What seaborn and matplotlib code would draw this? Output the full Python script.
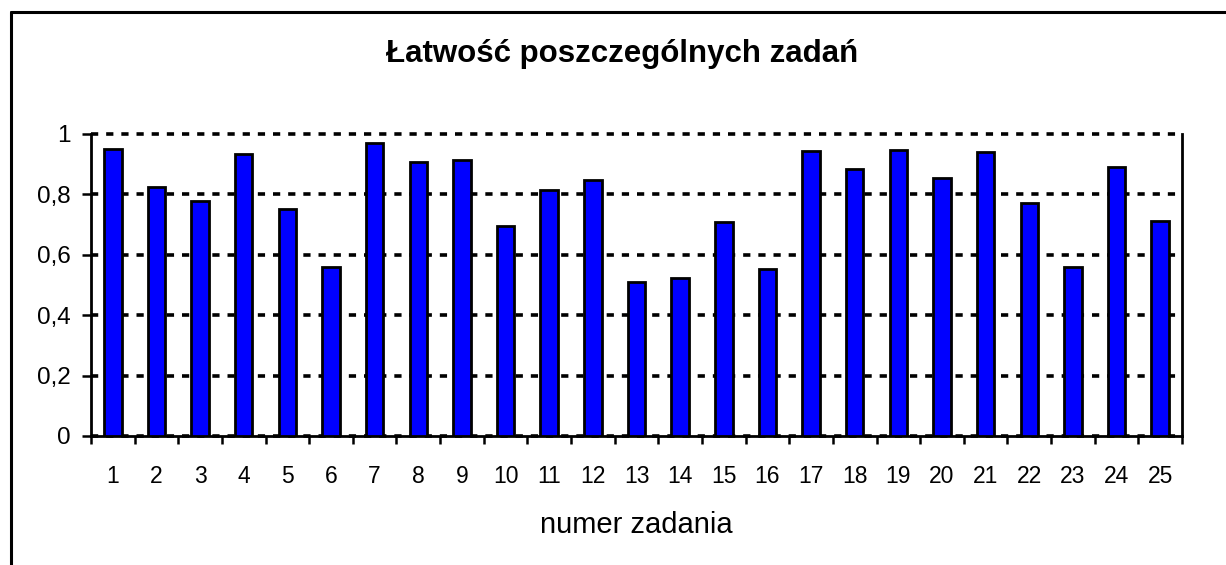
import matplotlib
matplotlib.use("Agg")
import matplotlib.pyplot as plt
from matplotlib.lines import Line2D
import seaborn as sns

# data
zadania = [str(i) for i in range(1, 26)]
latwosc = [0.950, 0.824, 0.778, 0.934, 0.751, 0.561, 0.969, 0.907, 0.915, 0.696,
           0.813, 0.848, 0.509, 0.524, 0.710, 0.553, 0.945, 0.883, 0.947, 0.853,
           0.942, 0.773, 0.561, 0.891, 0.711]
y_ticks = [0, 0.2, 0.4, 0.6, 0.8, 1.0]
y_labels = ["0", "0,2", "0,4", "0,6", "0,8", "1"]

title = "Łatwość poszczególnych zadań"
xlabel = "numer zadania"

sns.set_theme(style="white")
plt.rcParams["font.family"] = ["Liberation Sans", "DejaVu Sans"]

W, H = 1226, 565
fig = plt.figure(figsize=(W / 100, H / 100), dpi=100)
fig.patch.set_facecolor("white")
ax = fig.add_axes([91 / W, 1 - 436 / H, (1182 - 91) / W, (436 - 134) / H])

sns.barplot(x=zadania, y=latwosc, color="#0000FF", saturation=1,
            edgecolor="black", linewidth=2.0, width=0.4, ax=ax, zorder=3)

ax.set_xlim(-0.5, len(zadania) - 0.5)
ax.set_ylim(0, 1)
ax.set_yticks(y_ticks)
ax.set_yticklabels(y_labels, fontsize=17.5, color="black")
ax.yaxis.grid(True, linestyle=(0, (2, 2.2)), color="black", linewidth=2.6, zorder=1)
for gl in ax.get_ygridlines():
    gl.set_clip_on(False)
ax.xaxis.grid(False)
ax.set_axisbelow(True)

# category labels at bar centres, tick marks between categories
ax.set_xticks(range(len(zadania)))
ax.set_xticklabels(zadania, fontsize=16.5, color="black")
ax.set_xticks([i - 0.5 for i in range(len(zadania) + 1)], minor=True)
ax.tick_params(axis="x", which="major", length=0, pad=21)
ax.tick_params(axis="x", which="minor", length=6, width=1.8, color="black",
               direction="out", bottom=True)
ax.tick_params(axis="y", length=6.5, width=1.8, color="black", direction="out",
               left=True, pad=8)

for side in ["left", "bottom", "right"]:
    ax.spines[side].set_visible(True)
    ax.spines[side].set_color("black")
    ax.spines[side].set_linewidth(2.0)
ax.spines["top"].set_visible(False)

ax.set_xlabel("")
ax.set_ylabel("")

fig.text(622 / W, 1 - 62 / H, title, ha="center", va="baseline",
         fontsize=22.5, fontweight="bold", color="black")
fig.text(636 / W, 1 - 533 / H, xlabel, ha="center", va="baseline",
         fontsize=21, color="black")

# outer chart frame (only top and left edge visible in the reference)
fig.add_artist(Line2D([10.5 / W, 10.5 / W], [0, 1 - 11.5 / H],
                      transform=fig.transFigure, color="black", linewidth=2.2))
fig.add_artist(Line2D([10.5 / W, 1], [1 - 11.5 / H, 1 - 11.5 / H],
                      transform=fig.transFigure, color="black", linewidth=2.2))

fig.savefig("out.png", dpi=100)
plt.close(fig)
